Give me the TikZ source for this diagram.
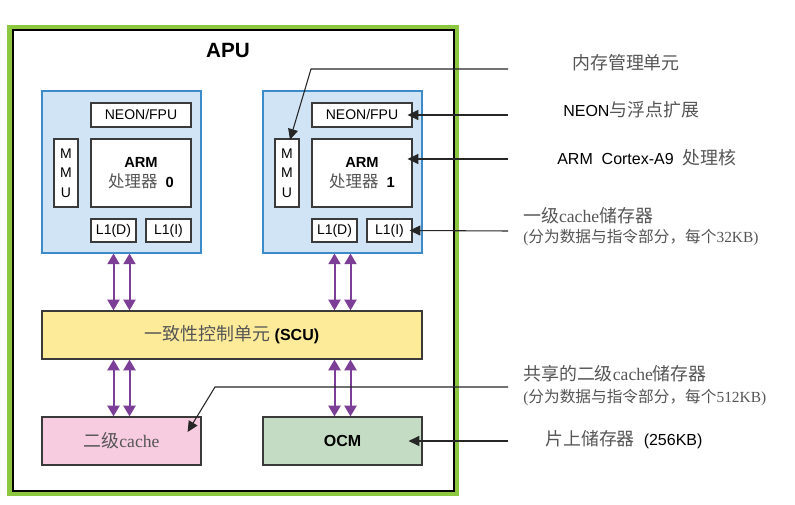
\documentclass[tikz,border=0pt]{standalone}
\usepackage{fontspec}
\setmainfont{Liberation Sans}
\newfontfamily\cjk[Scale=1.12]{Noto Sans CJK SC}
\newfontfamily\serifen[Scale=1.1]{Liberation Serif}
\usetikzlibrary{arrows.meta}
\definecolor{apugreen}{HTML}{8DC63F}
\definecolor{coreback}{HTML}{D0E4F5}
\definecolor{coreblue}{HTML}{3D8AC8}
\definecolor{scufill}{HTML}{FDEB9A}
\definecolor{ltwofill}{HTML}{F8CCE0}
\definecolor{ocmfill}{HTML}{C4DCC3}
\definecolor{buspurple}{HTML}{7D3E97}
\definecolor{boxgray}{HTML}{3A3A3A}
\definecolor{zhgray}{HTML}{555555}
\newcommand{\zh}[1]{{\cjk\color{zhgray}#1}}
\newcommand{\en}[1]{{\serifen\color{zhgray}#1}}
\tikzset{
  unit/.style={draw=boxgray, line width=0.9pt, fill=white, inner sep=0pt, align=center,
    font=\fontsize{10.5}{14.6}\selectfont},
  core/.style={draw=coreblue, line width=0.8pt, fill=coreback,
    minimum width=119.25pt, minimum height=121.5pt},
  bus/.style={draw=buspurple, line width=1.5pt,
    {Triangle[length=8pt,width=9pt]}-{Triangle[length=8pt,width=9pt]}},
  callout/.style={draw=black!85, line width=0.8pt, -{Triangle[length=8pt,width=7.5pt]}},
  note/.style={anchor=west, inner sep=0pt, align=left, font=\fontsize{12}{15}\selectfont},
}
\begin{document}
\begin{tikzpicture}[x=0.75pt, y=-0.75pt]
  \useasboundingbox (0,0) rectangle (795,505);
  % APU frame
  \draw[apugreen, line width=3.2pt] (9.5,27.2) rectangle (457.3,493.8);
  \draw[black, line width=1.5pt, fill=white] (12.5,30.5) rectangle (454.3,490.5);
  \node[font=\fontsize{15.5}{18}\selectfont\bfseries] (apu) at (228,50) {APU};

  % two cores
  \node[core] (core0) at (121.5,172) {};
  \node[core] (core1) at (342.5,172) {};
  \node[unit, minimum width=75pt, minimum height=18pt] (neon0) at (141,115) {NEON/FPU};
  \node[unit, minimum width=75pt, minimum height=18pt] (neon1) at (362,115) {NEON/FPU};
  \node[unit, minimum width=18pt, minimum height=51pt] (mmu0) at (66,173) {M\\M\\U};
  \node[unit, minimum width=18pt, minimum height=51pt] (mmu1) at (287,173) {M\\M\\U};
  \node[unit, minimum width=75pt, minimum height=51pt, font=\fontsize{11}{15}\selectfont]
    (arm0) at (141,173) {\textbf{ARM}\\\zh{处理器}~~\textbf{0}};
  \node[unit, minimum width=75pt, minimum height=51pt, font=\fontsize{11}{15}\selectfont]
    (arm1) at (362,173) {\textbf{ARM}\\\zh{处理器}~~\textbf{1}};
  \node[unit, minimum width=33.75pt, minimum height=17.25pt] (l1d0) at (113.5,230.5) {L1(D)};
  \node[unit, minimum width=33.75pt, minimum height=17.25pt] (l1i0) at (168.5,230.5) {L1(I)};
  \node[unit, minimum width=33.75pt, minimum height=17.25pt] (l1d1) at (334.5,230.5) {L1(D)};
  \node[unit, minimum width=33.75pt, minimum height=17.25pt] (l1i1) at (389.5,230.5) {L1(I)};

  % SCU, L2 and OCM
  \node[unit, fill=scufill, minimum width=285pt, minimum height=36pt, font=\fontsize{12}{14}\selectfont]
    (scu) at (232,335) {\zh{一致性控制单元}~\textbf{(SCU)}};
  \node[unit, fill=ltwofill, minimum width=119.25pt, minimum height=36pt, font=\fontsize{12}{14}\selectfont]
    (ltwo) at (121.5,441) {\zh{二级}\en{cache}};
  \node[unit, fill=ocmfill, minimum width=119.25pt, minimum height=36pt, font=\fontsize{12}{14}\selectfont\bfseries]
    (ocm) at (342.5,441) {OCM};

  % buses
  \draw[bus] ([xshift=-6pt]core0.south) -- ([xshift=-6pt]core0.south |- scu.north);
  \draw[bus] ([xshift=6pt]core0.south) -- ([xshift=6pt]core0.south |- scu.north);
  \draw[bus] ([xshift=-6pt]core1.south) -- ([xshift=-6pt]core1.south |- scu.north);
  \draw[bus] ([xshift=6pt]core1.south) -- ([xshift=6pt]core1.south |- scu.north);
  \draw[bus] ([xshift=-6pt]ltwo.north |- scu.south) -- ([xshift=-6pt]ltwo.north);
  \draw[bus] ([xshift=6pt]ltwo.north |- scu.south) -- ([xshift=6pt]ltwo.north);
  \draw[bus] ([xshift=-6pt]ocm.north |- scu.south) -- ([xshift=-6pt]ocm.north);
  \draw[bus] ([xshift=6pt]ocm.north |- scu.south) -- ([xshift=6pt]ocm.north);

  % notes on the right
  \node[note] (nmmu) at (572,63) {\zh{内存管理单元}};
  \node[note] (nneon) at (563,110) {NEON\zh{与浮点扩展}};
  \node[note] (narm) at (557,158) {ARM~~Cortex-A9~~\zh{处理核}};
  \node[note] (nlone) at (523,227) {\zh{一级}\en{cache}\zh{储存器}\\
    {\fontsize{10.5}{15}\selectfont\en{(}\zh{分为数据与指令部分，每个}\en{32KB)}}};
  \node[note, font=\fontsize{12}{17}\selectfont] (nltwo) at (523,385.5) {\zh{共享的二级}\en{cache}\zh{储存器}\\
    {\fontsize{10.5}{17}\selectfont\en{(}\zh{分为数据与指令部分，每个}\en{512KB)}}};
  \node[note] (nocm) at (545,440) {\zh{片上储存器}~~(256KB)};

  % callouts
  \coordinate (mmuEnd) at (508,69);
  \coordinate (mmuKnee) at (311,69);
  \coordinate (neonEnd) at (508,115);
  \coordinate (armEnd) at (508,159);
  \coordinate (loneEnd) at (508,231);
  \coordinate (ltwoEnd) at (508,387);
  \coordinate (ltwoKnee) at (215,387);
  \coordinate (ocmEnd) at (508,441);
  \draw[callout] (mmuEnd) -- (mmuKnee) -- ([xshift=2.25pt,yshift=-1pt]mmu1.north);
  \draw[callout] (neonEnd) -- ([xshift=-3.75pt]neon1.east);
  \draw[callout] (armEnd) -- ([xshift=-3.75pt]arm1.east |- armEnd);
  \draw[callout] (loneEnd) -- ([xshift=-2.25pt]l1i1.east);
  \draw[callout] (ltwoEnd) -- (ltwoKnee) -- ([xshift=-10.5pt,yshift=6.75pt]ltwo.east);
  \draw[callout] (ocmEnd) -- ([xshift=-10.5pt]ocm.east);
\end{tikzpicture}
\end{document}
